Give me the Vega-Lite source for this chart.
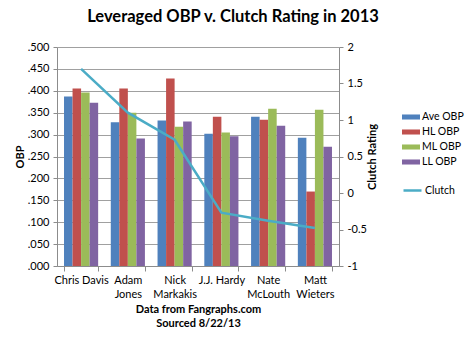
{
  "$schema": "https://vega.github.io/schema/vega-lite/v6.json",
  "width": 282,
  "height": 219,
  "autosize": {"type": "none"},
  "padding": {"left": 57, "top": 47, "right": 131, "bottom": 72},
  "background": "white",
  "title": {
    "text": "Leveraged OBP v. Clutch Rating in 2013",
    "font": "Lato",
    "fontSize": 16.5,
    "fontWeight": "bold",
    "color": "black",
    "anchor": "middle",
    "dx": 35,
    "offset": 16
  },
  "datasets": {
    "obp": [
      {"player": "Chris Davis", "series": "Ave OBP", "obp": 0.387},
      {"player": "Chris Davis", "series": "HL OBP", "obp": 0.405},
      {"player": "Chris Davis", "series": "ML OBP", "obp": 0.396},
      {"player": "Chris Davis", "series": "LL OBP", "obp": 0.373},
      {"player": "Adam Jones", "series": "Ave OBP", "obp": 0.328},
      {"player": "Adam Jones", "series": "HL OBP", "obp": 0.405},
      {"player": "Adam Jones", "series": "ML OBP", "obp": 0.350},
      {"player": "Adam Jones", "series": "LL OBP", "obp": 0.291},
      {"player": "Nick Markakis", "series": "Ave OBP", "obp": 0.332},
      {"player": "Nick Markakis", "series": "HL OBP", "obp": 0.428},
      {"player": "Nick Markakis", "series": "ML OBP", "obp": 0.318},
      {"player": "Nick Markakis", "series": "LL OBP", "obp": 0.330},
      {"player": "J.J. Hardy", "series": "Ave OBP", "obp": 0.302},
      {"player": "J.J. Hardy", "series": "HL OBP", "obp": 0.341},
      {"player": "J.J. Hardy", "series": "ML OBP", "obp": 0.305},
      {"player": "J.J. Hardy", "series": "LL OBP", "obp": 0.296},
      {"player": "Nate McLouth", "series": "Ave OBP", "obp": 0.341},
      {"player": "Nate McLouth", "series": "HL OBP", "obp": 0.334},
      {"player": "Nate McLouth", "series": "ML OBP", "obp": 0.359},
      {"player": "Nate McLouth", "series": "LL OBP", "obp": 0.320},
      {"player": "Matt Wieters", "series": "Ave OBP", "obp": 0.293},
      {"player": "Matt Wieters", "series": "HL OBP", "obp": 0.170},
      {"player": "Matt Wieters", "series": "ML OBP", "obp": 0.357},
      {"player": "Matt Wieters", "series": "LL OBP", "obp": 0.272}
    ],
    "clutch": [
      {"player": "Chris Davis", "series": "Clutch", "clutch": 1.70},
      {"player": "Adam Jones", "series": "Clutch", "clutch": 1.10},
      {"player": "Nick Markakis", "series": "Clutch", "clutch": 0.73},
      {"player": "J.J. Hardy", "series": "Clutch", "clutch": -0.27},
      {"player": "Nate McLouth", "series": "Clutch", "clutch": -0.38},
      {"player": "Matt Wieters", "series": "Clutch", "clutch": -0.48}
    ]
  },
  "layer": [
    {
      "data": {"name": "obp"},
      "mark": {"type": "bar"},
      "encoding": {
        "x": {
          "field": "player",
          "type": "nominal",
          "sort": ["Chris Davis", "Adam Jones", "Nick Markakis", "J.J. Hardy", "Nate McLouth", "Matt Wieters"],
          "scale": {"paddingInner": 0.27, "paddingOuter": 0.15},
          "axis": {
            "title": ["Data from Fangraphs.com", "Sourced 8/22/13"],
            "titleFont": "Lato",
            "titleFontSize": 11,
            "titleFontWeight": "bold",
            "titleColor": "black",
            "titlePadding": 4,
            "titleLineHeight": 14,
            "labelAngle": 0,
            "labelFont": "Lato",
            "labelFontSize": 11,
            "labelColor": "black",
            "labelPadding": 3,
            "labelLineHeight": 14,
            "labelExpr": "!isValid(datum.value) ? '' : ((datum.value == 'Chris Davis' || datum.value == 'J.J. Hardy') ? datum.value : split(datum.value, ' '))",
            "tickBand": "extent",
            "tickSize": 5,
            "tickColor": "#8c8c8c",
            "domainColor": "#8c8c8c",
            "grid": false
          }
        },
        "xOffset": {
          "field": "series",
          "sort": ["Ave OBP", "HL OBP", "ML OBP", "LL OBP"]
        },
        "y": {
          "field": "obp",
          "type": "quantitative",
          "scale": {"domain": [0, 0.5], "nice": false},
          "axis": {
            "orient": "left",
            "values": [0, 0.05, 0.1, 0.15, 0.2, 0.25, 0.3, 0.35, 0.4, 0.45, 0.5],
            "labelExpr": "substring(format(datum.value, '.3f'), 1)",
            "labelFont": "Lato",
            "labelFontSize": 11,
            "labelColor": "black",
            "labelPadding": 4,
            "tickSize": 4,
            "tickColor": "#8c8c8c",
            "domainColor": "#8c8c8c",
            "grid": true,
            "gridColor": "#a0a0a0",
            "title": "OBP",
            "titleFont": "Lato",
            "titleFontSize": 11,
            "titleFontWeight": "bold",
            "titleColor": "black",
            "titlePadding": 2
          }
        },
        "fill": {
          "field": "series",
          "type": "nominal",
          "scale": {
            "domain": ["Ave OBP", "HL OBP", "ML OBP", "LL OBP"],
            "range": ["#4F81BD", "#C0504D", "#9BBB59", "#8064A2"]
          },
          "legend": {
            "title": null,
            "orient": "none",
            "legendX": 345,
            "legendY": 61,
            "symbolType": "M-1,-0.28H1V0.28H-1Z",
            "symbolSize": 324,
            "symbolStrokeWidth": 0,
            "rowPadding": 0,
            "labelFont": "Lato",
            "labelFontSize": 10.5,
            "labelColor": "black",
            "labelOffset": 2
          }
        }
      }
    },
    {
      "data": {"name": "clutch"},
      "mark": {"type": "line", "strokeWidth": 2.5},
      "encoding": {
        "x": {
          "field": "player",
          "type": "nominal",
          "sort": ["Chris Davis", "Adam Jones", "Nick Markakis", "J.J. Hardy", "Nate McLouth", "Matt Wieters"]
        },
        "y": {
          "field": "clutch",
          "type": "quantitative",
          "scale": {"domain": [-1, 2], "nice": false, "zero": false},
          "axis": {
            "orient": "right",
            "values": [-1, -0.5, 0, 0.5, 1, 1.5, 2],
            "labelExpr": "'' + datum.value",
            "labelFont": "Lato",
            "labelFontSize": 11,
            "labelColor": "black",
            "labelPadding": 4,
            "tickSize": 4,
            "tickColor": "#8c8c8c",
            "domainColor": "#8c8c8c",
            "grid": false,
            "title": "Clutch Rating",
            "titleAngle": 270,
            "titleFont": "Lato",
            "titleFontSize": 11,
            "titleFontWeight": "bold",
            "titleColor": "black",
            "titlePadding": 11
          }
        },
        "stroke": {
          "field": "series",
          "type": "nominal",
          "scale": {"domain": ["Clutch"], "range": ["#4BACC6"]},
          "legend": {
            "title": null,
            "orient": "none",
            "legendX": 345,
            "legendY": 133,
            "symbolType": "stroke",
            "symbolSize": 324,
            "symbolStrokeWidth": 2.5,
            "labelFont": "Lato",
            "labelFontSize": 10.5,
            "labelColor": "black",
            "labelOffset": 2
          }
        }
      }
    }
  ],
  "resolve": {"scale": {"y": "independent"}},
  "config": {
    "view": {"stroke": null},
    "axis": {"labelFontWeight": "normal"}
  }
}
